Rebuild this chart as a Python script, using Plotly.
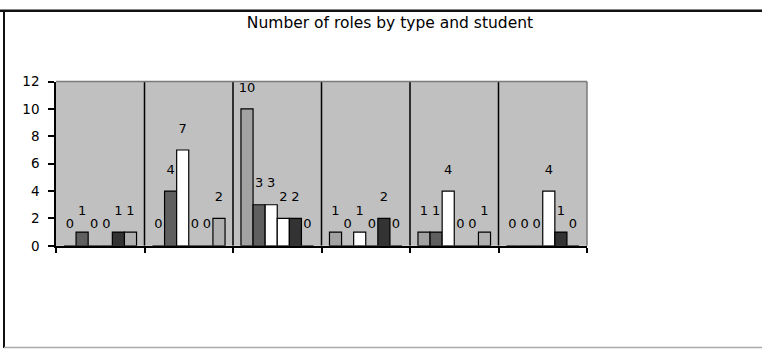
import plotly.graph_objects as go

# Roles per student, one list per role type
students = ["Student 1", "Student 2", "Student 3", "Student 4", "Student 5", "Student 6"]
role_types = ["Type 1", "Type 2", "Type 3", "Type 4", "Type 5", "Type 6"]
type1 = [0, 0, 10, 1, 1, 0]
type2 = [1, 4, 3, 0, 1, 0]
type3 = [0, 7, 3, 1, 4, 0]
type4 = [0, 0, 2, 0, 0, 4]
type5 = [1, 0, 2, 2, 0, 1]
type6 = [1, 2, 0, 0, 1, 0]
y_ticks = [0, 2, 4, 6, 8, 10, 12]

series = [type1, type2, type3, type4, type5, type6]
colors = ["#a2a2a2", "#5f5f5f", "#ffffff", "#ffffff", "#333333", "#b0b0b0"]

W, H = 762, 356
x_left, x_right = 56, 587
y_top, y_bot = 77, 249
FONT = "DejaVu Sans, Arial"
GAP = 0.18

fig = go.Figure()
xpos = list(range(len(students)))
for name, vals, col in zip(role_types, series, colors):
    fig.add_trace(go.Bar(
        x=xpos, y=vals, name=name,
        marker=dict(color=col, line=dict(color="#000000", width=1.2)),
        hovertext=students,
    ))
# value labels, grouped the same way as the bars and lifted by a hidden marker
for name, vals in zip(role_types, series):
    fig.add_trace(go.Scatter(
        x=xpos, y=vals, name=name, mode="markers+text",
        marker=dict(size=21, opacity=0),
        text=[str(v) for v in vals], textposition="top center",
        textfont=dict(family=FONT, size=13, color="#000000"),
        cliponaxis=False, hoverinfo="skip", showlegend=False,
    ))

shapes = []
# separators between students
for b in range(len(students) - 1):
    shapes.append(dict(type="line", xref="x", yref="y", x0=b + 0.5, x1=b + 0.5,
                       y0=0, y1=12, line=dict(color="#000000", width=1.5), layer="above"))
# plot area frame (top and right)
px0, px1 = x_left / W, x_right / W
py0, py1 = 1 - y_bot / H, 1 - y_top / H
shapes.append(dict(type="line", xref="paper", yref="paper", x0=px0, x1=px1, y0=py1, y1=py1,
                   line=dict(color="#7a7a7a", width=1.5)))
shapes.append(dict(type="line", xref="paper", yref="paper", x0=px1, x1=px1, y0=py0, y1=py1,
                   line=dict(color="#7a7a7a", width=1.5)))
# outer chart frame
shapes.append(dict(type="line", xref="paper", yref="paper", x0=0, x1=1, y0=1 - 3 / H, y1=1 - 3 / H,
                   line=dict(color="#111111", width=2.5)))
shapes.append(dict(type="line", xref="paper", yref="paper", x0=4 / W, x1=4 / W, y0=0, y1=1 - 3 / H,
                   line=dict(color="#111111", width=2)))
shapes.append(dict(type="line", xref="paper", yref="paper", x0=4 / W, x1=1, y0=0.5 / H, y1=0.5 / H,
                   line=dict(color="#aaaaaa", width=1.5)))

fig.update_layout(
    width=W, height=H,
    margin=dict(l=0, r=0, t=0, b=0),
    paper_bgcolor="#ffffff",
    plot_bgcolor="#c0c0c0",
    barmode="group",
    bargap=GAP,
    bargroupgap=0,
    scattermode="group",
    scattergap=GAP,
    showlegend=False,
    shapes=shapes,
    title=dict(text="Number of roles by type and student",
               x=390 / W, xanchor="center", y=1 - 23 / H, yanchor="middle",
               font=dict(family=FONT, size=15.5, color="#000000")),
    xaxis=dict(domain=[px0, px1], range=[-0.5, len(students) - 0.5],
               tickvals=[i - 0.5 for i in range(len(students) + 1)],
               showticklabels=False, ticks="outside", ticklen=5, tickcolor="#000000",
               tickwidth=1.5, showline=True, linecolor="#000000", linewidth=1.5,
               showgrid=False, zeroline=False, fixedrange=True),
    yaxis=dict(domain=[py0, py1], range=[0, 12], tickvals=y_ticks,
               ticks="outside", ticklen=6, tickcolor="#000000", tickwidth=1.5,
               showline=True, linecolor="#000000", linewidth=1.5,
               showgrid=False, zeroline=False, ticklabelstandoff=6,
               tickfont=dict(family=FONT, size=13.5, color="#000000")),
)

fig.write_html("out.html")
